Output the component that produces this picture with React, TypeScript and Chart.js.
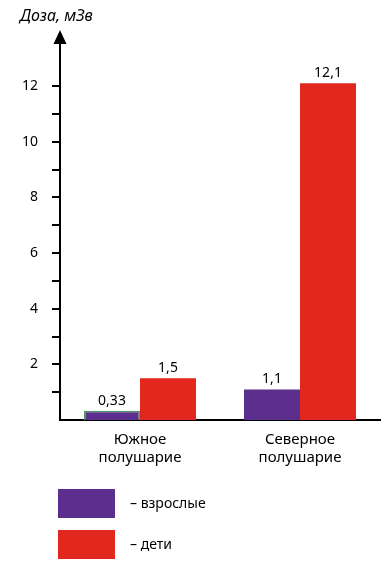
import React, { useEffect, useRef } from "react";
import { Chart, registerables } from "chart.js";

Chart.register(...registerables);

const categories: string[][] = [["Южное", "полушарие"], ["Северное", "полушарие"]];
const adults: number[] = [0.33, 1.1];
const children: number[] = [1.5, 12.1];
const seriesNames: string[] = ["взрослые", "дети"];
const axisTitle = "Доза, мЗв";
const yLabelValues: number[] = [2, 4, 6, 8, 10, 12];

const PURPLE = "#5C2F8E";
const RED = "#E2271E";
const FONT = "'Noto Sans', 'Open Sans', sans-serif";

const fmt = (v: number) => String(v).replace(".", ",");

const decorPlugin = {
  id: "decor",
  afterDraw(chart: any) {
    const ctx = chart.ctx;
    const area = chart.chartArea;
    ctx.save();
    // y axis extension + arrow
    ctx.strokeStyle = "#000";
    ctx.lineWidth = 2;
    ctx.beginPath();
    ctx.moveTo(area.left, area.top);
    ctx.lineTo(area.left, 40);
    ctx.stroke();
    ctx.fillStyle = "#000";
    ctx.beginPath();
    ctx.moveTo(area.left, 30);
    ctx.lineTo(area.left - 6.5, 44);
    ctx.lineTo(area.left + 6.5, 44);
    ctx.closePath();
    ctx.fill();
    // axis title
    ctx.font = `italic 16px ${FONT}`;
    ctx.textAlign = "left";
    ctx.textBaseline = "middle";
    ctx.fillText(axisTitle, 20, 16);
    // value labels
    ctx.font = `14px ${FONT}`;
    ctx.textAlign = "center";
    ctx.textBaseline = "bottom";
    chart.data.datasets.forEach((ds: any, di: number) => {
      const meta = chart.getDatasetMeta(di);
      meta.data.forEach((bar: any, i: number) => {
        ctx.fillText(fmt(ds.data[i]), bar.x, bar.y - 3);
      });
    });
    // legend
    const boxes = [489, 530];
    chart.data.datasets.forEach((ds: any, di: number) => {
      const top = boxes[di];
      ctx.fillStyle = ds.backgroundColor;
      ctx.fillRect(58, top, 57, 29);
      ctx.fillStyle = "#000";
      ctx.textAlign = "left";
      ctx.textBaseline = "middle";
      ctx.fillText("– " + ds.label, 130, top + 15);
    });
    ctx.restore();
  },
};

export default function App() {
  const ref = useRef<HTMLCanvasElement>(null);
  useEffect(() => {
    document.body.style.margin = "0";
    const chart = new Chart(ref.current!, {
      type: "bar",
      data: {
        labels: categories,
        datasets: [
          {
            label: seriesNames[0],
            data: adults,
            backgroundColor: PURPLE,
            borderColor: ["#4F9A63", PURPLE],
            borderWidth: [1.5, 0] as any,
            borderSkipped: "bottom",
          },
          {
            label: seriesNames[1],
            data: children,
            backgroundColor: RED,
            borderWidth: 0,
          },
        ],
      },
      options: {
        animation: false,
        responsive: false,
        layout: { padding: { top: 41.5, right: 12, bottom: 87, left: 0 } },
        plugins: { legend: { display: false }, tooltip: { enabled: false } },
        datasets: { bar: { categoryPercentage: 0.7, barPercentage: 1 } },
        scales: {
          x: {
            grid: { display: false, drawTicks: false },
            border: { display: true, color: "#000", width: 2 },
            ticks: { color: "#000", font: { family: FONT, size: 15 }, padding: 11 },
            afterFit: (s: any) => { s.height = 60; },
          },
          y: {
            min: 0,
            max: 13.6,
            grid: { drawOnChartArea: false, drawTicks: true, tickLength: 8, color: "#000", lineWidth: 2 },
            border: { display: true, color: "#000", width: 2 },
            ticks: {
              stepSize: 1,
              color: "#000",
              font: { family: FONT, size: 14 },
              padding: 14,
              callback: (v: any) => (yLabelValues.includes(Number(v)) ? String(v) : ""),
            },
            afterBuildTicks: (s: any) => {
              s.ticks = s.ticks.filter((t: any) => t.value > 0 && t.value <= 12);
            },
            afterFit: (s: any) => { s.width = 60; },
          },
        },
      },
      plugins: [decorPlugin],
    });
    return () => chart.destroy();
  }, []);
  return <canvas ref={ref} width={392} height={567} style={{ display: "block" }} />;
}
